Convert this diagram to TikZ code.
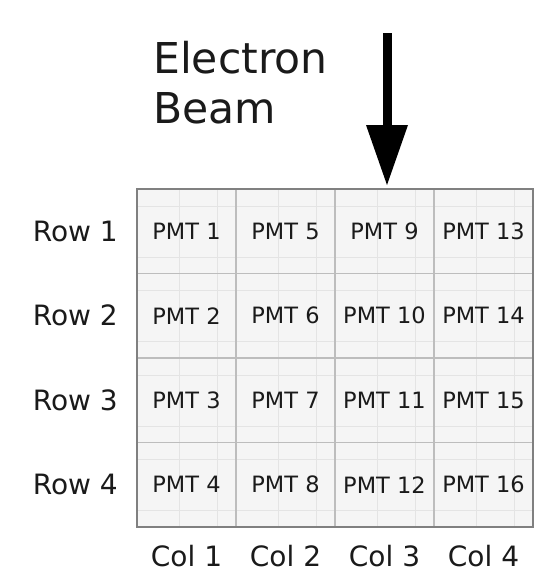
\documentclass[tikz,border=0pt]{standalone}
\usepackage{fontspec}
\setmainfont{DejaVu Sans}
\definecolor{txt}{HTML}{1A1A1A}
\definecolor{cellfill}{HTML}{F5F5F5}
\definecolor{outerline}{HTML}{808080}
\definecolor{innerline}{HTML}{BDBDBD}
\definecolor{faintline}{HTML}{E4E4E4}
\begin{document}
\begin{tikzpicture}[x=1pt,y=-1pt,
  pmt/.style={text=txt,font=\fontsize{22.5}{26}\selectfont,inner sep=0pt},
  axislabel/.style={text=txt,font=\fontsize{28}{32}\selectfont,inner sep=0pt},
  title/.style={text=txt,font=\fontsize{42.5}{50}\selectfont,inner sep=0pt,align=left},
  beam/.style={line width=9pt,draw=black},
  beamhead/.style={fill=black,draw=none}]
\useasboundingbox (0,0) rectangle (537,576);
\fill[white] (0,0) rectangle (537,576);
% grid
\fill[cellfill] (137,189) rectangle (533,527);
\foreach \i in {0,1,2,3}{
  \foreach \j in {0,1,2,3}{
    \pgfmathsetmacro{\xa}{137+99*\i}
    \pgfmathsetmacro{\ya}{189+84.5*\j}
    \draw[faintline,line width=0.8pt] (\xa+42,\ya) -- (\xa+42,\ya+84.5);
    \draw[faintline,line width=0.8pt] (\xa+80,\ya) -- (\xa+80,\ya+84.5);
    \draw[faintline,line width=0.8pt] (\xa,\ya+17) -- (\xa+99,\ya+17);
    \draw[faintline,line width=0.8pt] (\xa,\ya+68) -- (\xa+99,\ya+68);
  }
}
\foreach \x in {236,335,434}{
  \draw[innerline,line width=1.6pt] (\x,189) -- (\x,527);
}
\foreach \y in {273.5,358,442.5}{
  \draw[innerline,line width=1.6pt] (137,\y) -- (533,\y);
}
\draw[outerline,line width=1.8pt] (137,189) rectangle (533,527);
% PMT labels
\foreach \i in {0,1,2,3}{
  \foreach \j in {0,1,2,3}{
    \pgfmathtruncatemacro{\n}{4*\i+\j+1}
    \node[pmt] (p\n) at (186.5+99*\i,231.25+84.5*\j) {PMT \n};
  }
}
% row labels
\foreach \j in {1,2,3,4}{
  \node[axislabel,anchor=east] (r\j) at (118,231.25+84.5*\j-84.5) {Row \j};
}
% col labels
\foreach \i in {1,2,3,4}{
  \node[axislabel] (c\i) at (186.5+99*\i-99,556) {Col \i};
}
% title
\node[title,anchor=base west] (t1) at (153,73) {Electron};
\node[title,anchor=base west] (t2) at (153,123) {Beam};
% arrow
\coordinate (bstart) at (387,33);
\coordinate (bend) at (387,126);
\coordinate (tip) at (387,185);
\draw[beam] (bstart) -- (bend);
\fill[beamhead] (366,125) -- (408,125) -- (tip) -- cycle;
\end{tikzpicture}
\end{document}
